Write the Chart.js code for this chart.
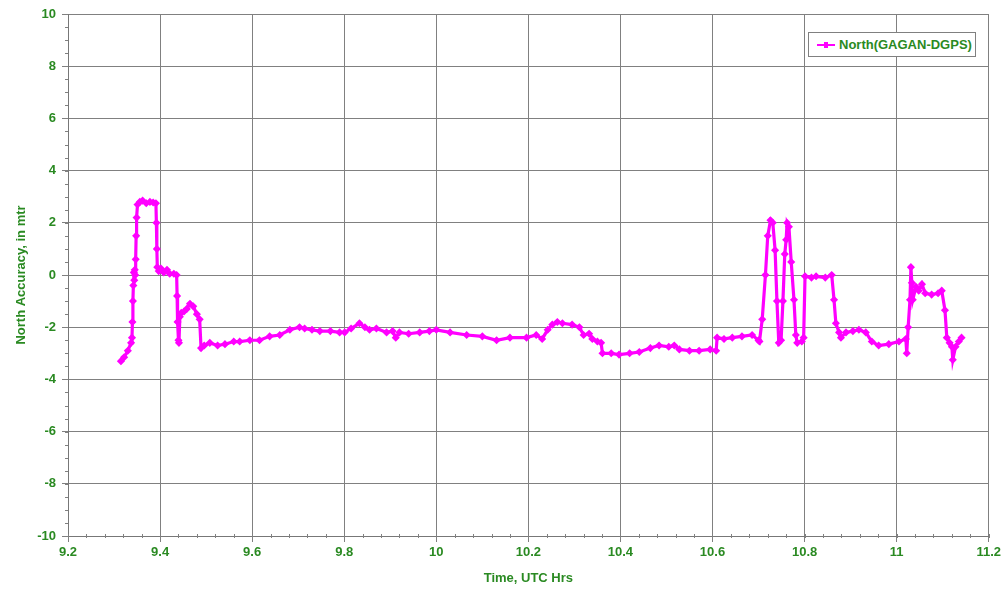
<!DOCTYPE html>
<html>
<head>
<meta charset="utf-8">
<script src="https://cdn.jsdelivr.net/npm/chart.js@4.4.1/dist/chart.umd.min.js"></script>
<style>
  html, body { margin: 0; padding: 0; background: #fff; }
  #wrap { position: relative; width: 1004px; height: 592px; }
  #legend {
    position: absolute; left: 808px; top: 32px; width: 168px; height: 25px;
    border: 1px solid #808080; background: #fff; box-sizing: border-box;
    font: bold 13px "Liberation Sans", Arial, sans-serif; color: #2a8a22;
    display: flex; align-items: center; padding-left: 8px;
  }
  #legend .sw { position: relative; width: 18px; height: 2px; background: #ff00ff; margin-right: 4px; }
  #legend .sw::after { content: ""; position: absolute; left: 7px; top: -2px; width: 4px; height: 6px; background: #ff00ff; }
</style>
</head>
<body>
<div id="wrap">
  <canvas id="grafico" width="1004" height="592"></canvas>
  <div id="legend"><span class="sw"></span>North(GAGAN-DGPS)</div>
</div>
<script>
// Datos
var seriesName = "North(GAGAN-DGPS)";
var xTicks = [9.2, 9.4, 9.6, 9.8, 10, 10.2, 10.4, 10.6, 10.8, 11, 11.2];
var yTicks = [-10, -8, -6, -4, -2, 0, 2, 4, 6, 8, 10];

var timeHrs = [
  9.315, 9.322, 9.330, 9.337, 9.339, 9.340, 9.341, 9.342, 9.343, 9.344, 9.345, 9.346,
  9.347, 9.348, 9.349, 9.351, 9.356, 9.362, 9.370, 9.378, 9.385, 9.391, 9.392, 9.393,
  9.394, 9.397, 9.402, 9.408, 9.415, 9.421, 9.430, 9.436, 9.437, 9.438, 9.440, 9.441,
  9.443, 9.446, 9.452, 9.458, 9.465, 9.472, 9.480, 9.486, 9.489, 9.496, 9.508, 9.525,
  9.541, 9.560, 9.573, 9.595, 9.616, 9.638, 9.660, 9.682, 9.703, 9.714, 9.730, 9.747,
  9.770, 9.790, 9.801, 9.815, 9.833, 9.845, 9.855, 9.870, 9.892, 9.905, 9.912, 9.920,
  9.940, 9.964, 9.985, 10.000, 10.030, 10.066, 10.100, 10.131, 10.160, 10.196, 10.217, 10.230,
  10.242, 10.252, 10.263, 10.274, 10.295, 10.311, 10.320, 10.332, 10.339, 10.350, 10.358, 10.361,
  10.380, 10.397, 10.420, 10.441, 10.465, 10.484, 10.505, 10.517, 10.528, 10.550, 10.571, 10.595,
  10.608, 10.610, 10.625, 10.643, 10.664, 10.686, 10.700, 10.702, 10.708, 10.715, 10.720, 10.726,
  10.731, 10.736, 10.740, 10.744, 10.749, 10.753, 10.757, 10.760, 10.762, 10.766, 10.771, 10.777,
  10.781, 10.784, 10.794, 10.798, 10.801, 10.815, 10.825, 10.845, 10.859, 10.864, 10.868, 10.875,
  10.879, 10.890, 10.905, 10.918, 10.933, 10.946, 10.961, 10.983, 11.005, 11.020, 11.022, 11.025,
  11.029, 11.031, 11.033, 11.035, 11.042, 11.048, 11.055, 11.062, 11.076, 11.090, 11.098, 11.105,
  11.109, 11.115, 11.120, 11.122, 11.128, 11.135, 11.141
];

var northAcc = [
  -3.3, -3.15, -2.9, -2.6, -2.4, -1.8, -1.0, -0.4, 0.1, -0.2, 0.2, 0.0,
  0.6, 1.5, 2.2, 2.7, 2.8, 2.85, 2.75, 2.8, 2.78, 2.75, 2.0, 1.0,
  0.3, 0.15, 0.25, 0.1, 0.2, 0.05, 0.05, 0.0, -0.8, -1.8, -2.5, -2.6,
  -1.6, -1.45, -1.4, -1.3, -1.1, -1.2, -1.5, -1.7, -2.8, -2.7, -2.6, -2.7,
  -2.65, -2.55, -2.55, -2.5, -2.5, -2.35, -2.3, -2.1, -2.0, -2.05, -2.1, -2.15,
  -2.15, -2.2, -2.2, -2.05, -1.85, -2.0, -2.1, -2.05, -2.2, -2.15, -2.4, -2.2,
  -2.25, -2.2, -2.15, -2.1, -2.2, -2.3, -2.35, -2.5, -2.4, -2.4, -2.3, -2.45,
  -2.1, -1.9, -1.8, -1.85, -1.9, -2.0, -2.3, -2.25, -2.45, -2.55, -2.6, -3.0,
  -3.0, -3.05, -3.0, -2.95, -2.8, -2.7, -2.75, -2.7, -2.85, -2.9, -2.9, -2.85,
  -2.9, -2.4, -2.45, -2.4, -2.35, -2.3, -2.5, -2.55, -1.7, 0.0, 1.5, 2.1,
  2.0, 0.95, -1.0, -2.6, -2.5, -1.0, 0.8, 1.35, 2.0, 1.85, 0.5, -0.95,
  -2.3, -2.6, -2.55, -2.4, -0.05, -0.1, -0.05, -0.1, 0.0, -0.95, -1.85, -2.2,
  -2.4, -2.2, -2.15, -2.1, -2.2, -2.55, -2.7, -2.65, -2.55, -2.45, -3.0, -2.0,
  -0.95, 0.3, -0.3, -0.95, -0.45, -0.6, -0.35, -0.7, -0.75, -0.7, -0.6, -1.35,
  -2.4, -2.6, -2.75, -3.25, -2.75, -2.55, -2.4
];

var verde = "#2a8a22";
var fuente = { family: "'Liberation Sans', Arial, sans-serif", size: 13, weight: "bold" };

// Marcas menores en los ejes
var minorTicks = {
  id: "minorTicks",
  afterDraw: function (chart) {
    var ctx = chart.ctx, xs = chart.scales.x, ys = chart.scales.y;
    var area = chart.chartArea;
    ctx.save();
    ctx.strokeStyle = "#808080";
    ctx.lineWidth = 1;
    ctx.beginPath();
    for (var v = -10; v <= 10.001; v += 0.5) {
      var py = Math.round(ys.getPixelForValue(v)) + 0.5;
      ctx.moveTo(area.left - 3, py);
      ctx.lineTo(area.left, py);
    }
    for (var t = 9.2; t <= 11.2001; t += 0.04) {
      var px = Math.round(xs.getPixelForValue(t)) + 0.5;
      ctx.moveTo(px, area.bottom - 2);
      ctx.lineTo(px, area.bottom + 2);
    }
    ctx.stroke();
    ctx.restore();
  }
};

var puntos = timeHrs.map(function (t, i) { return { x: t, y: northAcc[i] }; });

new Chart(document.getElementById("grafico").getContext("2d"), {
  type: "scatter",
  data: {
    datasets: [{
      label: seriesName,
      data: puntos,
      showLine: true,
      borderColor: "#ff00ff",
      backgroundColor: "#ff00ff",
      borderWidth: 3.2,
      pointStyle: "rectRot",
      pointRadius: 1.8,
      pointHoverRadius: 1.8
    }]
  },
  options: {
    responsive: false,
    animation: false,
    layout: { padding: { top: 14, right: 14, left: 0, bottom: 0 } },
    plugins: { legend: { display: false }, tooltip: { enabled: false } },
    scales: {
      x: {
        type: "linear", min: 9.2, max: 11.2,
        afterBuildTicks: function (s) { s.ticks = xTicks.map(function (v) { return { value: v }; }); },
        afterFit: function (s) { s.height = 56; },
        grid: { color: "#808080", lineWidth: 1, tickLength: 6, tickColor: "#808080" },
        border: { color: "#777", width: 1 },
        ticks: { color: verde, font: fuente, padding: 3, maxRotation: 0,
          callback: function (v) { return String(+v.toFixed(1)); } },
        title: { display: true, text: "Time, UTC Hrs", color: verde, font: fuente, padding: { top: 6, bottom: 6 } }
      },
      y: {
        type: "linear", min: -10, max: 10,
        afterBuildTicks: function (s) { s.ticks = yTicks.map(function (v) { return { value: v }; }); },
        afterFit: function (s) { s.width = 68; },
        grid: { color: "#808080", lineWidth: 1, tickLength: 6, tickColor: "#808080" },
        border: { color: "#777", width: 1 },
        ticks: { color: verde, font: fuente, padding: 6,
          callback: function (v) { return String(v); } },
        title: { display: true, text: "North Accuracy, in mtr", color: verde, font: fuente, padding: { top: 14, bottom: 4 } }
      }
    }
  },
  plugins: [minorTicks]
});
</script>
</body>
</html>
